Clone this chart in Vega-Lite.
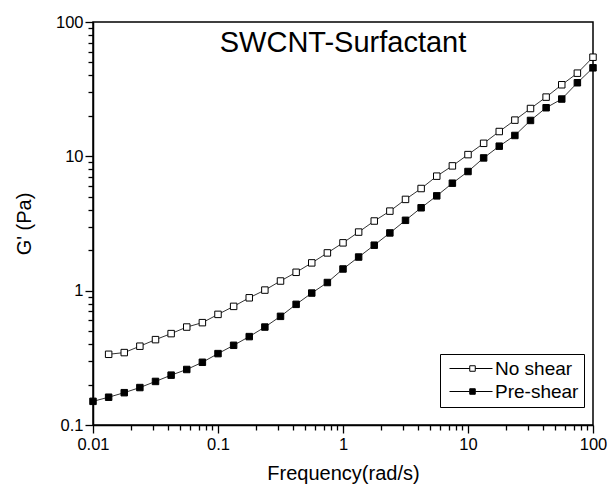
{
  "$schema": "https://vega.github.io/schema/vega-lite/v6.json",
  "autosize": "none",
  "width": 500,
  "height": 403,
  "padding": {"left": 93, "top": 22, "right": 20, "bottom": 64},
  "background": "white",
  "title": {
    "text": "SWCNT-Surfactant",
    "font": "Liberation Sans",
    "fontSize": 29,
    "fontWeight": "normal",
    "color": "black",
    "anchor": "middle",
    "frame": "group",
    "baseline": "alphabetic",
    "offset": -31,
    "dy": 36
  },
  "config": {
    "view": {"stroke": "black", "strokeWidth": 1.5},
    "axis": {
      "domainColor": "black",
      "domainWidth": 1.5,
      "tickColor": "black",
      "tickWidth": 1.3,
      "grid": false,
      "labelFont": "Liberation Sans",
      "labelFontSize": 16.5,
      "labelColor": "black",
      "titleFont": "Liberation Sans",
      "titleFontSize": 20,
      "titleFontWeight": "normal",
      "titleColor": "black",
      "labelOverlap": false,
      "labelFlush": false
    }
  },
  "data": {
    "values": [
      {"f": 0.01334, "g": 0.336, "s": "No shear"},
      {"f": 0.01778, "g": 0.346, "s": "No shear"},
      {"f": 0.02371, "g": 0.386, "s": "No shear"},
      {"f": 0.03162, "g": 0.432, "s": "No shear"},
      {"f": 0.04217, "g": 0.479, "s": "No shear"},
      {"f": 0.05623, "g": 0.536, "s": "No shear"},
      {"f": 0.07499, "g": 0.578, "s": "No shear"},
      {"f": 0.1, "g": 0.666, "s": "No shear"},
      {"f": 0.1334, "g": 0.764, "s": "No shear"},
      {"f": 0.1778, "g": 0.885, "s": "No shear"},
      {"f": 0.2371, "g": 1.01, "s": "No shear"},
      {"f": 0.3162, "g": 1.18, "s": "No shear"},
      {"f": 0.4217, "g": 1.37, "s": "No shear"},
      {"f": 0.5623, "g": 1.61, "s": "No shear"},
      {"f": 0.7499, "g": 1.91, "s": "No shear"},
      {"f": 1, "g": 2.27, "s": "No shear"},
      {"f": 1.334, "g": 2.73, "s": "No shear"},
      {"f": 1.778, "g": 3.3, "s": "No shear"},
      {"f": 2.371, "g": 3.91, "s": "No shear"},
      {"f": 3.162, "g": 4.78, "s": "No shear"},
      {"f": 4.217, "g": 5.76, "s": "No shear"},
      {"f": 5.623, "g": 7.12, "s": "No shear"},
      {"f": 7.499, "g": 8.49, "s": "No shear"},
      {"f": 10, "g": 10.3, "s": "No shear"},
      {"f": 13.34, "g": 12.5, "s": "No shear"},
      {"f": 17.78, "g": 15.3, "s": "No shear"},
      {"f": 23.71, "g": 18.6, "s": "No shear"},
      {"f": 31.62, "g": 22.7, "s": "No shear"},
      {"f": 42.17, "g": 27.6, "s": "No shear"},
      {"f": 56.23, "g": 34.1, "s": "No shear"},
      {"f": 74.99, "g": 41.6, "s": "No shear"},
      {"f": 100, "g": 54.7, "s": "No shear"},
      {"f": 0.01, "g": 0.15, "s": "Pre-shear"},
      {"f": 0.01334, "g": 0.161, "s": "Pre-shear"},
      {"f": 0.01778, "g": 0.174, "s": "Pre-shear"},
      {"f": 0.02371, "g": 0.19, "s": "Pre-shear"},
      {"f": 0.03162, "g": 0.211, "s": "Pre-shear"},
      {"f": 0.04217, "g": 0.235, "s": "Pre-shear"},
      {"f": 0.05623, "g": 0.259, "s": "Pre-shear"},
      {"f": 0.07499, "g": 0.293, "s": "Pre-shear"},
      {"f": 0.1, "g": 0.34, "s": "Pre-shear"},
      {"f": 0.1334, "g": 0.392, "s": "Pre-shear"},
      {"f": 0.1778, "g": 0.455, "s": "Pre-shear"},
      {"f": 0.2371, "g": 0.536, "s": "Pre-shear"},
      {"f": 0.3162, "g": 0.644, "s": "Pre-shear"},
      {"f": 0.4217, "g": 0.791, "s": "Pre-shear"},
      {"f": 0.5623, "g": 0.96, "s": "Pre-shear"},
      {"f": 0.7499, "g": 1.15, "s": "Pre-shear"},
      {"f": 1, "g": 1.45, "s": "Pre-shear"},
      {"f": 1.334, "g": 1.78, "s": "Pre-shear"},
      {"f": 1.778, "g": 2.18, "s": "Pre-shear"},
      {"f": 2.371, "g": 2.69, "s": "Pre-shear"},
      {"f": 3.162, "g": 3.34, "s": "Pre-shear"},
      {"f": 4.217, "g": 4.14, "s": "Pre-shear"},
      {"f": 5.623, "g": 5.08, "s": "Pre-shear"},
      {"f": 7.499, "g": 6.31, "s": "Pre-shear"},
      {"f": 10, "g": 7.71, "s": "Pre-shear"},
      {"f": 13.34, "g": 9.73, "s": "Pre-shear"},
      {"f": 17.78, "g": 11.9, "s": "Pre-shear"},
      {"f": 23.71, "g": 14.3, "s": "Pre-shear"},
      {"f": 31.62, "g": 18.5, "s": "Pre-shear"},
      {"f": 42.17, "g": 23.0, "s": "Pre-shear"},
      {"f": 56.23, "g": 26.7, "s": "Pre-shear"},
      {"f": 74.99, "g": 35.3, "s": "Pre-shear"},
      {"f": 100, "g": 45.6, "s": "Pre-shear"}
    ]
  },
  "encoding": {
    "x": {
      "field": "f",
      "type": "quantitative",
      "scale": {"type": "log", "domain": [0.01, 100], "nice": false},
      "axis": {
        "title": "Frequency(rad/s)",
        "values": [0.01,0.02,0.03,0.04,0.05,0.06,0.07,0.08,0.09,0.1,0.2,0.3,0.4,0.5,0.6,0.7,0.8,0.9,1,2,3,4,5,6,7,8,9,10,20,30,40,50,60,70,80,90,100],
        "format": "~g",
        "labelExpr": "abs(log(datum.value)/LN10 - round(log(datum.value)/LN10)) < 0.001 ? datum.label : ''",
        "tickSize": {"condition": {"test": "abs(log(datum.value)/LN10 - round(log(datum.value)/LN10)) < 0.001", "value": 8}, "value": 5},
        "labelPadding": 3,
        "titlePadding": 11
      }
    },
    "y": {
      "field": "g",
      "type": "quantitative",
      "scale": {"type": "log", "domain": [0.1, 100], "nice": false},
      "axis": {
        "title": "G' (Pa)",
        "values": [0.1,0.2,0.3,0.4,0.5,0.6,0.7,0.8,0.9,1,2,3,4,5,6,7,8,9,10,20,30,40,50,60,70,80,90,100],
        "format": "~g",
        "labelExpr": "abs(log(datum.value)/LN10 - round(log(datum.value)/LN10)) < 0.001 ? datum.label : ''",
        "tickSize": {"condition": {"test": "abs(log(datum.value)/LN10 - round(log(datum.value)/LN10)) < 0.001", "value": 8}, "value": 5},
        "labelPadding": 2,
        "titlePadding": 21
      }
    }
  },
  "layer": [
    {
      "mark": {"type": "line", "color": "black", "strokeWidth": 0.8},
      "encoding": {"detail": {"field": "s"}}
    },
    {
      "mark": {"type": "point", "shape": "square", "size": 42, "filled": true, "stroke": "black", "strokeWidth": 1, "opacity": 1},
      "encoding": {
        "fill": {
          "field": "s",
          "type": "nominal",
          "scale": {"domain": ["No shear", "Pre-shear"], "range": ["white", "black"]},
          "legend": {
            "title": null,
            "orient": "none",
            "legendX": 347,
            "legendY": 332,
            "padding": 5,
            "strokeColor": "black",
            "fillColor": "white",
            "symbolType": "M-1,0H3.05M3.05,-0.55H4.15V0.55H3.05ZM4.15,0H7.6",
            "symbolSize": 100,
            "symbolStrokeColor": "black",
            "symbolStrokeWidth": 1,
            "labelFont": "Liberation Sans",
            "labelFontSize": 19,
            "labelColor": "black",
            "labelOffset": 31,
            "rowPadding": 3
          }
        }
      }
    }
  ]
}
